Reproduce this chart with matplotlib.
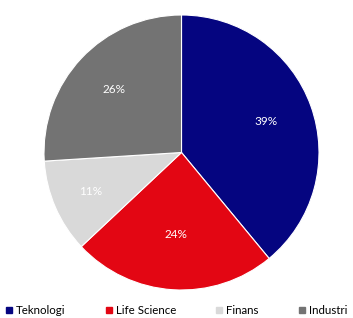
import matplotlib
matplotlib.use("Agg")
import matplotlib.pyplot as plt
from matplotlib.lines import Line2D

categories = ["Teknologi", "Life Science", "Finans", "Industri"]
values = [39, 24, 11, 26]
colors = ["#050580", "#E30613", "#D9D9D9", "#737373"]
label_dist = [0.655, 0.595, 0.72, 0.67]

plt.rcParams['font.family'] = ['Lato', 'DejaVu Sans']

fig = plt.figure(figsize=(3.53, 3.18), dpi=100)
ax = fig.add_axes([44/353, (318-290)/318, 275/353, 275/318])
wedges, texts, autotexts = ax.pie(values, colors=colors, startangle=90, counterclock=False,
                                  autopct=lambda p: f"{p:.0f}%", pctdistance=1.0,
                                  wedgeprops=dict(edgecolor="white", linewidth=0.8),
                                  textprops=dict(color="white", fontsize=8.5))
for t, d in zip(autotexts, label_dist):
    x, y = t.get_position()
    t.set_position((x * d, y * d))
ax.set_aspect("equal")
ax.set_xlim(-1.0, 1.0)
ax.set_ylim(-1.0, 1.0)

handles = [Line2D([0], [0], marker="s", linestyle="none", markersize=4,
                  markerfacecolor=c, markeredgecolor=c) for c in colors]
fig.legend(handles, categories, loc="lower center", bbox_to_anchor=(0.5, -0.025), ncol=4,
           frameon=False, fontsize=8.3, handlelength=0.6, handletextpad=0.3, columnspacing=3.45)

fig.savefig("out.png", dpi=100)
